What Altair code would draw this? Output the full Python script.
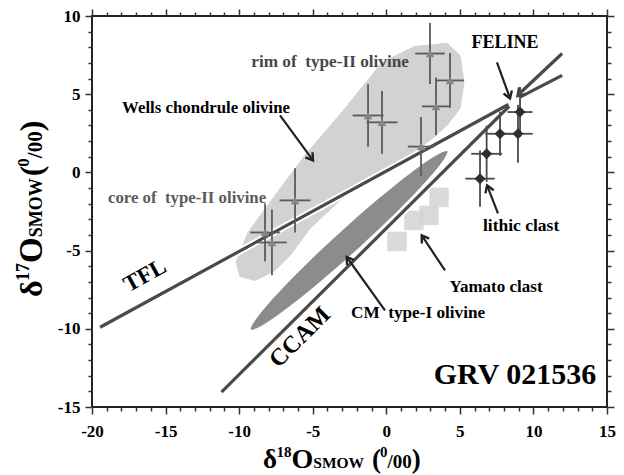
import math
import numpy as np
import pandas as pd
import altair as alt

# ---------------- data ----------------
# type-II olivine (grey triangles with 2-sigma error bars)
ol_x = [2.97, 4.33, 3.38, -1.24, -0.29, 2.36, -6.20, -8.24, -7.77]
ol_y = [7.60, 5.88, 4.22, 3.64, 3.20, 1.65, -1.79, -3.84, -4.48]
ol_xerr = [1.00, 0.95, 0.95, 1.05, 1.05, 0.90, 1.05, 1.00, 1.00]
ol_yerr = [1.95, 1.75, 1.85, 2.00, 2.00, 1.90, 2.05, 1.85, 2.10]

# lithic clast (dark diamonds)
lc_x = [6.37, 6.82, 7.73, 8.95, 9.09]
lc_y = [-0.40, 1.19, 2.47, 2.47, 3.86]
lc_xerr = [1.00, 1.05, 1.00, 1.00, 0.85]
lc_yerr = [1.80, 1.80, 1.40, 1.85, 1.60]

# Yamato clast (light squares)
ya_x = [0.73, 1.88, 2.90, 3.58]
ya_y = [-4.41, -3.07, -2.75, -1.60]

# reference lines (TFL, CCAM) and the double-shaft arrow toward FELINE
seg_id = ["TFL", "TFL", "CCAM", "CCAM", "A1", "A1", "A2", "A2"]
seg_x = [-19.45, 8.30, -11.20, 8.35, 11.95, 8.95, 11.95, 9.05]
seg_y = [-9.90, 4.34, -14.05, 4.23, 7.60, 4.95, 6.20, 4.80]

# Wells chondrule olivine field (outline)
blob_x = [-10.21, -9.40, -7.56, -5.52, -2.81, -0.29, 1.95, 4.13, 5.01, 5.28,
          5.01, 4.13, 2.97, 1.27, -0.77, -3.15, -5.18, -6.54, -7.56, -8.92, -9.94]
blob_y = [-5.75, -3.84, -1.47, 1.09, 4.09, 7.03, 8.06, 8.25, 7.48, 5.75,
          4.09, 3.01, 2.05, 0.90, -0.19, -1.79, -3.58, -5.31, -6.27, -6.91, -6.65]

# CM type-I olivine field: ellipse given by its two tips and half width (px)
ell_tips_x = [-9.26, 4.20]
ell_tips_y = [-10.10, 1.40]
ell_half_width_px = 13

# annotation arrows: tail -> head
arr_x = [-7.22, 7.59, 3.99, -0.09, 7.52]
arr_y = [3.64, -2.62, -6.27, -8.82, 7.03]
arr_x2 = [-4.98, 6.85, 2.41, -2.69, 8.41]
arr_y2 = [0.77, -0.83, -4.03, -5.41, 4.73]

# ---------------- layout ----------------
FONT = "Liberation Serif"
W, H = 515, 391
XD, YD = [-20, 15], [-15, 10]
SX = W / (XD[1] - XD[0])
SY = H / (YD[1] - YD[0])

xs = alt.Scale(domain=XD, nice=False, zero=False)
ys = alt.Scale(domain=YD, nice=False, zero=False)


def X(f):
    return alt.X(f, type="quantitative", scale=xs, axis=None)


def Y(f):
    return alt.Y(f, type="quantitative", scale=ys, axis=None)


layers = []

# light grey field
blob = pd.DataFrame({"x": blob_x, "y": blob_y, "i": range(len(blob_x))})
layers.append(alt.Chart(blob).mark_line(interpolate="linear-closed", color="#d2d2d2",
                                        fill="#d2d2d2", strokeWidth=1)
              .encode(x=X("x"), y=Y("y"), order="i:Q"))

# Yamato squares
ya = pd.DataFrame({"x": ya_x, "y": ya_y})
layers.append(alt.Chart(ya).mark_point(shape="square", filled=True, size=380,
                                       color="#d4d4d4", opacity=0.85)
              .encode(x=X("x"), y=Y("y")))

# dark ellipse
p1 = np.array([ell_tips_x[0] * SX, ell_tips_y[0] * SY])
p2 = np.array([ell_tips_x[1] * SX, ell_tips_y[1] * SY])
c = (p1 + p2) / 2
u = (p2 - p1) / np.linalg.norm(p2 - p1)
v = np.array([-u[1], u[0]])
a = np.linalg.norm(p2 - p1) / 2
t = np.linspace(0, 2 * np.pi, 90, endpoint=False)
pts = c[None, :] + a * np.cos(t)[:, None] * u + ell_half_width_px * np.sin(t)[:, None] * v
ell = pd.DataFrame({"x": pts[:, 0] / SX, "y": pts[:, 1] / SY, "i": range(len(t))})
layers.append(alt.Chart(ell).mark_line(interpolate="linear-closed", color="white",
                                       fill="#8c8c8c", strokeWidth=2)
              .encode(x=X("x"), y=Y("y"), order="i:Q"))

# lines with white halo
seg = pd.DataFrame({"id": seg_id, "x": seg_x, "y": seg_y})
layers.append(alt.Chart(seg).mark_line(color="white", strokeWidth=7, strokeCap="round")
              .encode(x=X("x"), y=Y("y"), detail="id:N"))
layers.append(alt.Chart(seg).mark_line(color="#4a4a4a", strokeWidth=3.2)
              .encode(x=X("x"), y=Y("y"), detail="id:N"))

# error bars + symbols
ol = pd.DataFrame({"x": ol_x, "y": ol_y, "xe": ol_xerr, "ye": ol_yerr})
lc = pd.DataFrame({"x": lc_x, "y": lc_y, "xe": lc_xerr, "ye": lc_yerr})
for df, col in [(ol, "#5a5a5a"), (lc, "#4a4a4a")]:
    base = alt.Chart(df).transform_calculate(
        x0="datum.x - datum.xe", x1="datum.x + datum.xe",
        y0="datum.y - datum.ye", y1="datum.y + datum.ye")
    layers.append(base.mark_rule(color=col, strokeWidth=1.8)
                  .encode(x=X("x0"), x2="x1:Q", y=Y("y")))
    layers.append(base.mark_rule(color=col, strokeWidth=1.8)
                  .encode(x=X("x"), y=Y("y0"), y2="y1:Q"))
layers.append(alt.Chart(ol).mark_point(shape="triangle-up", filled=True, size=75,
                                       color="#858585", opacity=1)
              .encode(x=X("x"), y=Y("y")))
layers.append(alt.Chart(lc).mark_point(shape="diamond", filled=True, size=120,
                                       color="#2e2e2e", opacity=1)
              .encode(x=X("x"), y=Y("y")))

# arrows
ang = []
for x0, y0, x1, y1 in zip(arr_x, arr_y, arr_x2, arr_y2):
    dxp = (x1 - x0) * SX
    dyp = -(y1 - y0) * SY
    ang.append(math.degrees(math.atan2(dxp, -dyp)) % 360)
arr = pd.DataFrame({"x": arr_x, "y": arr_y, "x2": arr_x2, "y2": arr_y2, "ang": ang})
layers.append(alt.Chart(arr).mark_rule(color="#222222", strokeWidth=2.2)
              .encode(x=X("x"), y=Y("y"), x2="x2:Q", y2="y2:Q"))
layers.append(alt.Chart(arr).mark_point(shape="M -0.55 0.85 L 0 0 L 0.55 0.85", filled=False,
                                        size=260, color="#222222", strokeWidth=2.4, opacity=1)
              .encode(x=X("x2"), y=Y("y2"), angle=alt.Angle("ang:Q", scale=None)))
# head of the double-shaft arrow at FELINE
head = pd.DataFrame({"x": [8.92], "y": [4.88],
                     "ang": [math.degrees(math.atan2(-3 * SX, -3 * SY)) % 360]})
layers.append(alt.Chart(head).mark_point(shape="M -0.55 0.85 L 0 0 L 0.55 0.85", filled=False,
                                         size=300, color="#444444", strokeWidth=2.6, opacity=1)
              .encode(x=X("x"), y=Y("y"), angle=alt.Angle("ang:Q", scale=None)))


# text annotations (data coordinates)
def label(text, x, y, size, color="black", angle=0, align="center"):
    d = pd.DataFrame({"t": [text], "x": [x], "y": [y]})
    return alt.Chart(d).mark_text(font=FONT, fontWeight="bold", fontSize=size, color=color,
                                  angle=angle, align=align, baseline="middle").encode(
        x=X("x"), y=Y("y"), text="t:N")


NB = "\u00a0"
layers += [
    label(f"rim of{NB} type-II olivine", -3.82, 7.03, 17.2, "#474747"),
    label("Wells chondrule olivine", -12.25, 4.09, 16.8),
    label(f"core of{NB} type-II olivine", -13.54, -1.66, 16.8, "#5c5c5c"),
    label("FELINE", 8.07, 8.25, 18),
    label("lithic clast", 9.16, -3.45, 17.5),
    label("Yamato clast", 7.46, -7.35, 17),
    label(f"CM{NB} type-I olivine", 2.16, -9.02, 17.2),
    label("TFL", -16.4, -6.59, 23, angle=331),
    label("CCAM", -5.86, -10.55, 24, angle=315),
    label("GRV 021536", 8.75, -12.98, 30),
]

# axes (bottom/left with labels, top/right mirrored ticks)
ax_df = pd.DataFrame({"x": XD, "y": YD})
major = "datum.value % 5 === 0"
common = dict(grid=False, domain=False, title=None,
              tickColor="#333333", tickWidth=1.5,
              tickSize={"condition": {"test": major, "value": 7}, "value": 4},
              labelFont=FONT, labelFontWeight="bold", labelFontSize=17, labelColor="black",
              labelOverlap=False, labelFlush=False)
lab = f"{major} ? ('' + datum.value) : ''"
xa_b = alt.Axis(orient="bottom", labelPadding=9, values=list(range(-20, 16)),
                labelExpr=lab, **common)
ya_l = alt.Axis(orient="left", labelPadding=5, values=list(range(-15, 11)),
                labelExpr=lab, **common)
xa_t = alt.Axis(orient="top", labels=False, values=list(range(-20, 16)), **common)
ya_r = alt.Axis(orient="right", labels=False, values=list(range(-15, 11)), **common)
layers.append(alt.Chart(ax_df).mark_point(opacity=0).encode(
    x=alt.X("x:Q", scale=xs, axis=xa_b), y=alt.Y("y:Q", scale=ys, axis=ya_l)))
layers.append(alt.Chart(ax_df).mark_point(opacity=0).encode(
    x=alt.X("x:Q", scale=xs, axis=xa_t), y=alt.Y("y:Q", scale=ys, axis=ya_r)))

# axis titles built from pieces (pixel positions relative to plot area)
CW = {"δ": 0.5, "O": 0.778, "S": 0.556, "M": 0.944, "W": 1.0, "(": 0.333, ")": 0.333,
      "/": 0.278, " ": 0.25}


def width(s, size):
    return sum(CW.get(ch, 0.5) for ch in s) * size


def run(pieces, x0, y0, vertical=False):
    out = []
    pos = 0.0
    for s, size, rise, gap in pieces:
        pos += gap
        if vertical:
            px, py, ang = x0 - rise, y0 - pos, 270
        else:
            px, py, ang = x0 + pos, y0 - rise, 0
        d = pd.DataFrame({"t": [s]})
        out.append(alt.Chart(d).mark_text(font=FONT, fontWeight="bold", fontSize=size,
                                          color="black", align="left", baseline="alphabetic",
                                          angle=ang)
                   .encode(x=alt.value(px), y=alt.value(py), text="t:N"))
        pos += width(s, size)
    return out


# (text, font size, raise px, extra gap before px)
xt = [("δ", 27, 0, 0), ("18", 15, 11, 0), ("O", 28, 0, 0), ("SMOW", 15.5, 0, 0),
      ("(", 27, 0, 8), ("0", 15, 11, -1), ("/00", 19, 0, 0), (")", 27, 0, 0)]
yt = [("δ", 32, 0, 0), ("17", 18, 13, 0), ("O", 33, 0, 0), ("SMOW", 18, 0, 0),
      ("(", 32, 0, 2), ("0", 17, 13, -1), ("/00", 21, 0, 0), (")", 32, 0, 0)]
layers += run(xt, 263 - 92, 468 - 16)
layers += run(yt, 42 - 92, 297 - 16, vertical=True)

chart = alt.layer(*layers).resolve_axis(x="independent", y="independent").properties(
    width=W, height=H,
    autosize=alt.AutoSizeParams(type="none"),
    padding={"left": 84, "top": 8, "right": 9, "bottom": 68},
).configure_view(stroke="#222222", strokeWidth=2).configure_axis(
    labelFontWeight="bold", labelFont=FONT)

chart.save("out.html", embed_options={"renderer": "svg", "actions": False})
